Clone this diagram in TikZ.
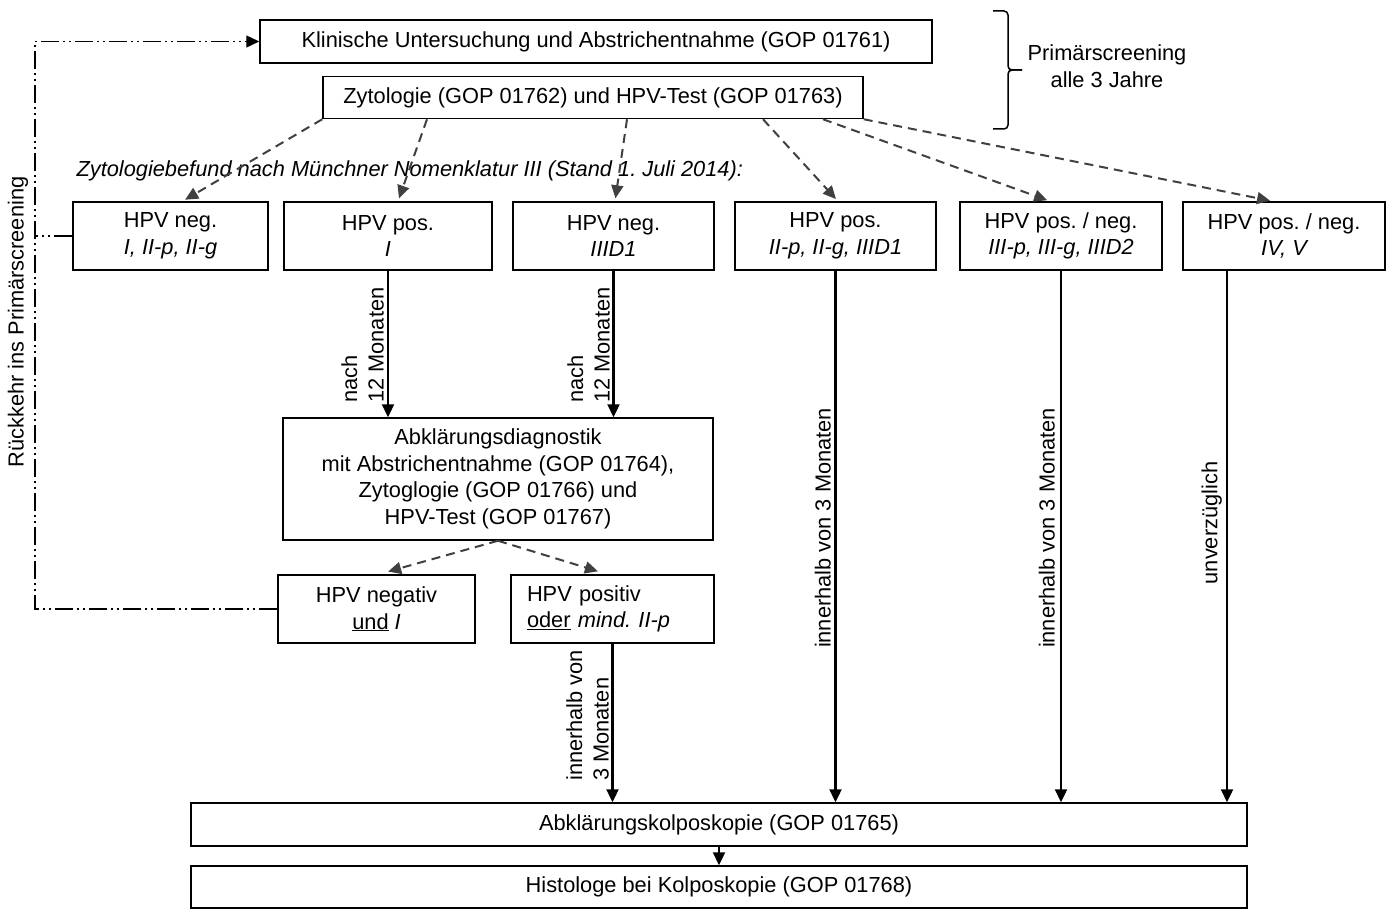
\documentclass[tikz,border=0pt]{standalone}
\usepackage{fontspec}
\setmainfont{Liberation Sans}
\usetikzlibrary{arrows.meta,calc}
\newcommand\ftx{\fontsize{21.8}{26.5}\selectfont}
\frenchspacing

\begin{document}
\begin{tikzpicture}[x=1pt,y=-1pt,
  every node/.style={font=\ftx},
  box/.style={draw, line width=1.5pt, inner sep=0pt, align=center, minimum height=68pt},
  solidarrow/.style={line width=2.3pt, -{Triangle[length=13pt,width=12pt]}},
  dasharrow/.style={draw=black!75, line width=2pt, dash pattern=on 9pt off 6pt, -{Triangle[length=13pt,width=12pt]}, shorten >=3pt},
  backline/.style={line width=1.4pt, dash pattern=on 18pt off 4pt on 2pt off 4pt on 2pt off 4pt, -{Triangle[length=13pt,width=12pt]}},
  turnlabel/.style={rotate=90, align=left, inner sep=1pt}]
\path[use as bounding box] (0,0) rectangle (1391,909);

%Shape: Rectangle [top]
\node[box, minimum width=672pt, minimum height=43pt] (klin) at (596,41.5) {Klinische Untersuchung und Abstrichentnahme (GOP 01761)};
\node[box, minimum width=540pt, minimum height=42pt] (zyto) at (593,97.5) {Zytologie (GOP 01762) und HPV-Test (GOP 01763)};

%Shape: Brace
\draw[line width=1.5pt, rounded corners=4pt] (993,11) -- (1008,11) -- (1008,70) -- (1022,70);
\draw[line width=1.5pt, rounded corners=4pt] (1022,70) -- (1008,70) -- (1008,129) -- (993,129);
% Text Node
\node[align=center] (scr) at (1107,66) {Primärscreening\\alle 3 Jahre};

% Text Node
\node[anchor=west, font=\ftx\itshape] (befund) at (73,171) {Zytologiebefund nach Münchner Nomenklatur III (Stand 1. Juli 2014):};

%Shape: Rectangle [row of findings]
\node[box, minimum width=195pt] (b1) at (170.5,236) {HPV neg.\\\itshape I, II-p, II-g};
\node[box, minimum width=208pt] (b2) at (388,236) {HPV pos.\\\itshape I};
\node[box, minimum width=201pt] (b3) at (613.5,236) {HPV neg.\\\itshape IIID1};
\node[box, minimum width=201pt] (b4) at (835.5,236) {HPV pos.\\\itshape II-p, II-g, IIID1};
\node[box, minimum width=202pt] (b5) at (1061,236) {HPV pos. / neg.\\\itshape III-p, III-g, IIID2};
\node[box, minimum width=202pt] (b6) at (1284,236) {HPV pos. / neg.\\\itshape IV, V};

%Shape: Rectangle [follow-up]
\node[box, minimum width=430pt, minimum height=122pt] (abkl) at (498,479) {Abklärungsdiagnostik\\mit Abstrichentnahme (GOP 01764),\\Zytoglogie (GOP 01766) und\\HPV-Test (GOP 01767)};
\node[box, minimum width=197pt] (neg) at (376.5,609) {HPV negativ\\\underline{und} \itshape I};
\node[box, align=left, text width=171pt, inner xsep=16pt] (pos) at (612.5,609) {HPV positiv\\\underline{oder} \itshape mind. II-p};

%Shape: Rectangle [bottom]
\node[box, minimum width=1056pt, minimum height=43pt] (kolpo) at (719,824.5) {Abklärungskolposkopie (GOP 01765)};
\node[box, minimum width=1056pt, minimum height=42pt] (histo) at (719,887) {Histologe bei Kolposkopie (GOP 01768)};

%Dashed Lines
\draw[dasharrow] (zyto.south west) -- ([xshift=12pt]b1.north);
\draw[dasharrow] ([xshift=-166pt]zyto.south) -- ([xshift=10pt]b2.north);
\draw[dasharrow] ([xshift=34pt]zyto.south) -- ([xshift=1.5pt]b3.north);
\draw[dasharrow] ([xshift=170pt]zyto.south) -- ([xshift=2.5pt]b4.north);
\draw[dasharrow] ([xshift=230pt]zyto.south) -- ([xshift=-11pt]b5.north);
\draw[dasharrow] (zyto.south east) -- ([xshift=-11pt]b6.north);
\draw[dasharrow, shorten >=10pt] (abkl.south) -- ([xshift=2pt]neg.north);
\draw[dasharrow, shorten >=10pt] (abkl.south) -- ([xshift=-5pt]pos.north);

%Straight Lines
\draw[solidarrow] (b2.south) -- (b2.south |- abkl.north);
\draw[solidarrow] (b3.south) -- (b3.south |- abkl.north);
\draw[solidarrow] (b4.south) -- (b4.south |- kolpo.north);
\draw[solidarrow] (b5.south) -- (b5.south |- kolpo.north);
\draw[solidarrow] ([xshift=-57pt]b6.south) -- ([xshift=-57pt]b6.south |- kolpo.north);
\draw[solidarrow] (pos.south) -- (pos.south |- kolpo.north);
\draw[solidarrow] (kolpo.south) -- (histo.north);

%Return to screening
\coordinate (rettop) at (35,41.5);
\draw[backline] (neg.west) -| (rettop) -- (klin.west);
\draw[backline, -] (b1.west) -- (b1.west -| rettop);
% Text Node
\node[rotate=90] (ret) at (18,322) {Rückkehr ins Primärscreening};

% Text Node
\node[turnlabel, anchor=south west] (t2) at (385,404) {nach\\12 Monaten};
\node[turnlabel, anchor=south west] (t3) at (611,404) {nach\\12 Monaten};
\node[turnlabel, anchor=south] (t4) at (832,528) {innerhalb von 3 Monaten};
\node[turnlabel, anchor=south] (t5) at (1056,528) {innerhalb von 3 Monaten};
\node[turnlabel, anchor=south] (t6) at (1223,523) {unverzüglich};
\node[turnlabel, anchor=south west] (tp) at (610,782) {innerhalb von\\3 Monaten};

\end{tikzpicture}
\end{document}
